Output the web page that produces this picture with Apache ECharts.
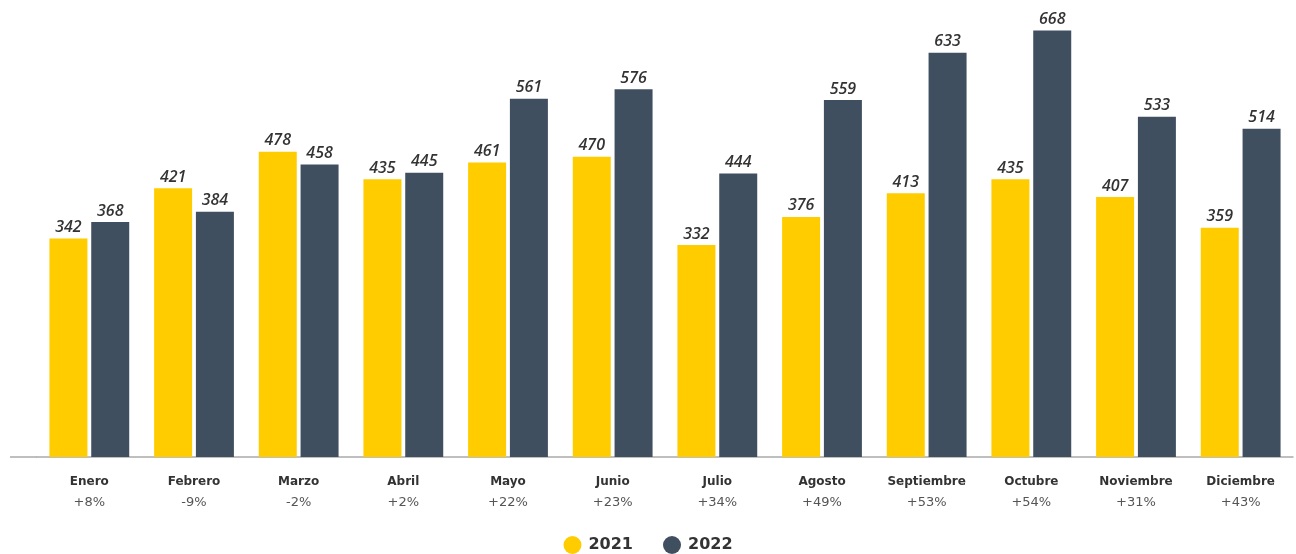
<!DOCTYPE html>
<html><head><meta charset="utf-8">
<script src="https://cdn.jsdelivr.net/npm/echarts@6/dist/echarts.min.js"></script>
<style>html,body{margin:0;padding:0;background:#fff}#c{width:1296px;height:554px}</style>
</head><body><div id="c"></div>
<script>
const months = ['Enero','Febrero','Marzo','Abril','Mayo','Junio','Julio','Agosto','Septiembre','Octubre','Noviembre','Diciembre'];
const changes = ['+8%','-9%','-2%','+2%','+22%','+23%','+34%','+49%','+53%','+54%','+31%','+43%'];
const v2021 = [342,421,478,435,461,470,332,376,413,435,407,359];
const v2022 = [368,384,458,445,561,576,444,559,633,668,533,514];

const chart = echarts.init(document.getElementById('c'));
const lbl = {show:true,position:'top',distance:3,fontStyle:'italic',fontWeight:600,fontSize:16,color:'#333',fontFamily:'Open Sans'};
chart.setOption({
  animation:false,
  grid:{left:37,right:3,top:10,height:447,containLabel:false},
  legend:{top:536,left:'center',itemWidth:18,itemHeight:18,itemGap:30,icon:'circle',padding:0,
    textStyle:{fontSize:16,fontWeight:'bold',color:'#333',fontFamily:'DejaVu Sans',padding:[0,0,0,2]},data:['2021','2022']},
  xAxis:{type:'category',data:months,
    axisLine:{lineStyle:{color:'#aaa',width:1.5}},axisTick:{show:false},
    axisLabel:{interval:0,margin:14,formatter:(v,i)=>'{m|'+v+'}\n{p|'+changes[i]+'}',
      rich:{m:{fontWeight:'bold',fontSize:12,color:'#333',fontFamily:'DejaVu Sans',lineHeight:22},
            p:{fontSize:13,color:'#555',fontFamily:'DejaVu Sans',lineHeight:20}}}},
  yAxis:{type:'value',min:0,max:700,show:false,splitLine:{show:false}},
  graphic:[{type:'line',shape:{x1:10,y1:457,x2:37,y2:457},style:{stroke:'#aaa',lineWidth:1.5}}],
  series:[
    {name:'2021',type:'bar',data:v2021,barWidth:38,barGap:'10%',itemStyle:{color:'#FFCC00'},label:lbl},
    {name:'2022',type:'bar',data:v2022,barWidth:38,itemStyle:{color:'#404F60'},label:lbl}
  ]
});
</script></body></html>
